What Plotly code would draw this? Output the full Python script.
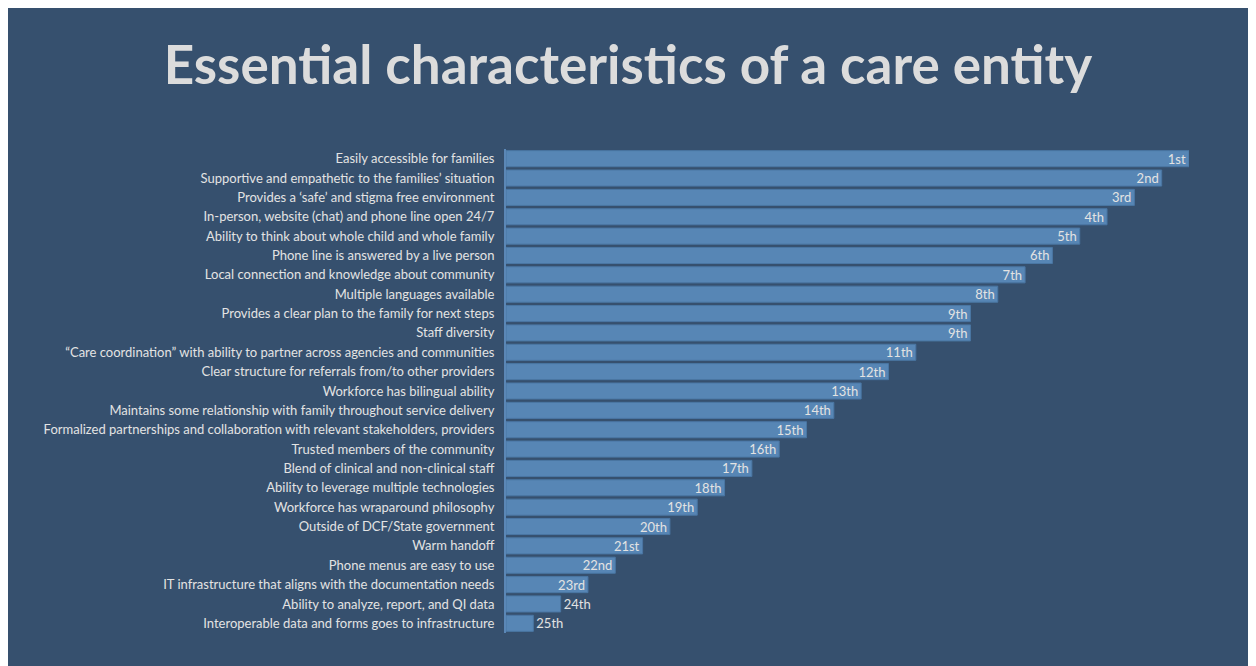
import plotly.graph_objects as go

categories = [
    "Easily accessible for families",
    "Supportive and empathetic to the families’ situation",
    "Provides a ‘safe’ and stigma free environment",
    "In-person, website (chat) and phone line open 24/7",
    "Ability to think about whole child and whole family",
    "Phone line is answered by a live person",
    "Local connection and knowledge about community",
    "Multiple languages available",
    "Provides a clear plan to the family for next steps",
    "Staff diversity",
    "“Care coordination” with ability to partner across agencies and communities",
    "Clear structure for referrals from/to other providers",
    "Workforce has bilingual ability",
    "Maintains some relationship with family throughout service delivery",
    "Formalized partnerships and collaboration with relevant stakeholders, providers",
    "Trusted members of the community",
    "Blend of clinical and non-clinical staff",
    "Ability to leverage multiple technologies",
    "Workforce has wraparound philosophy",
    "Outside of DCF/State government",
    "Warm handoff",
    "Phone menus are easy to use",
    "IT infrastructure that aligns with the documentation needs",
    "Ability to analyze, report, and QI data",
    "Interoperable data and forms goes to infrastructure",
]
scores = [25, 24, 23, 22, 21, 20, 19, 18, 17, 17, 15, 14, 13, 12, 11, 10, 9, 8, 7, 6, 5, 4, 3, 2, 1]
rank_labels = ["1st", "2nd", "3rd", "4th", "5th", "6th", "7th", "8th", "9th", "9th",
               "11th", "12th", "13th", "14th", "15th", "16th", "17th", "18th", "19th",
               "20th", "21st", "22nd", "23rd", "24th", "25th"]
positions = ["inside"] * 23 + ["outside"] * 2

BG = "#36506e"
BAR = "#5786b5"
TXT = "#e3e3e3"
FONT = "Lato"

fig = go.Figure(go.Bar(
    x=scores,
    y=categories,
    orientation="h",
    text=rank_labels,
    textposition=positions,
    insidetextanchor="end",
    textfont=dict(family=FONT, size=13, color=TXT),
    insidetextfont=dict(family=FONT, size=13, color=TXT),
    outsidetextfont=dict(family=FONT, size=13, color=TXT),
    marker=dict(color=BAR, line=dict(color="#4a76a3", width=1)),
    cliponaxis=False,
))

fig.update_layout(
    width=1256,
    height=666,
    paper_bgcolor=BG,
    plot_bgcolor=BG,
    margin=dict(l=498, r=75, t=141, b=41),
    bargap=0.17,
    showlegend=False,
    uniformtext=dict(minsize=13, mode="show"),
    title=dict(
        text="<b>Essential characteristics of a care entity</b>",
        x=620 / 1256,
        xanchor="center",
        y=1 - 57 / 666,
        yanchor="middle",
        font=dict(family=FONT, size=53, color="#dcdcdc"),
    ),
    xaxis=dict(range=[0, 25], visible=False, showgrid=False, zeroline=False),
    yaxis=dict(
        autorange="reversed",
        showgrid=False,
        zeroline=False,
        showline=True,
        linecolor="#5b87b6",
        linewidth=2,
        ticks="",
        ticklabelstandoff=7,
        tickfont=dict(family=FONT, size=13, color=TXT),
    ),
)

fig.write_html("out.html")
